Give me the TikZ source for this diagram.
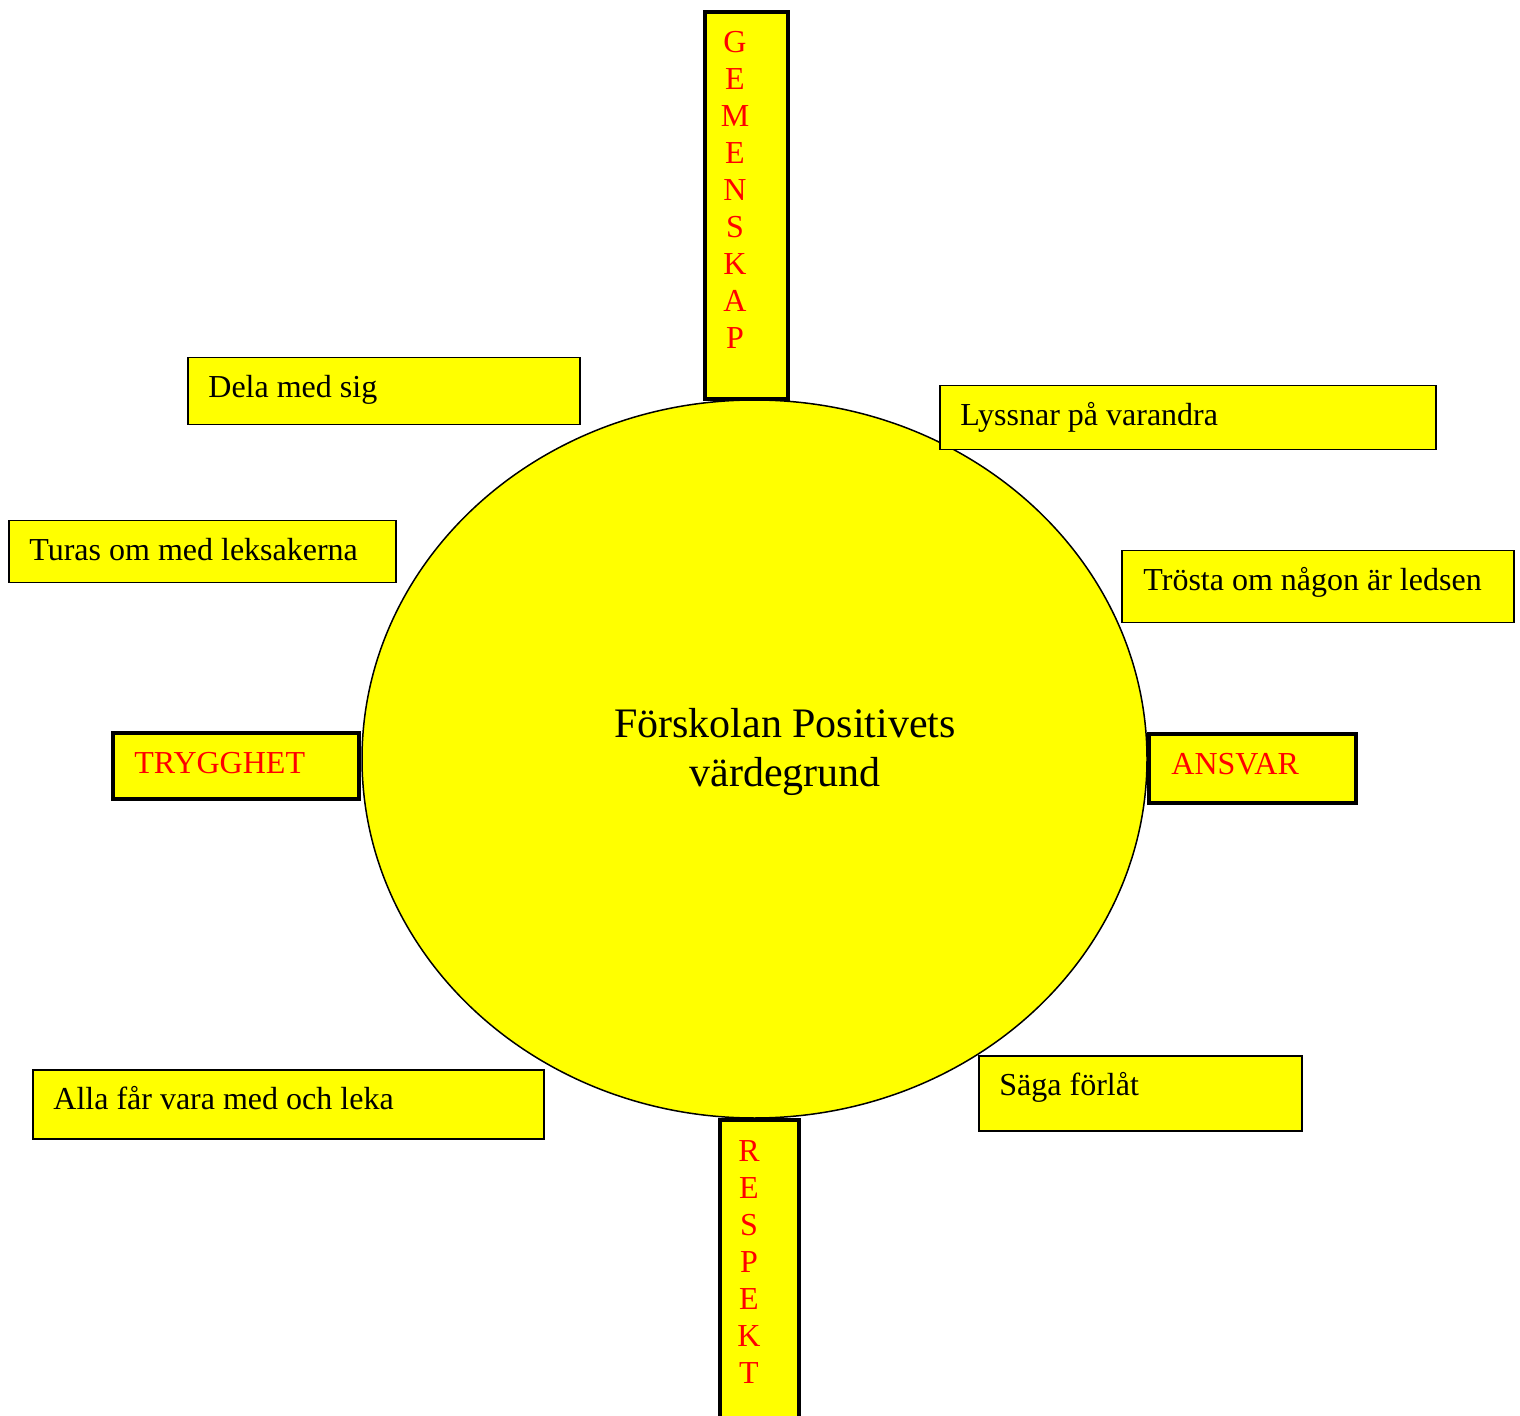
\documentclass[tikz,border=0pt]{standalone}
\usepackage{fontspec}
\setmainfont{Liberation Serif}
\usetikzlibrary{shapes.geometric}
\definecolor{ybox}{RGB}{255,255,0}
\definecolor{rtext}{RGB}{255,0,0}
\begin{document}
\begin{tikzpicture}[x=0.5pt,y=-0.5pt,
  thinbox/.style={draw=black, line width=0.75pt, fill=ybox, inner sep=0pt, anchor=north west},
  thickbox/.style={thinbox, line width=2pt},
  lbl/.style={anchor=base west, inner sep=0pt, font=\fontsize{16}{18.5}\selectfont},
  redlbl/.style={lbl, text=rtext},
  vlbl/.style={anchor=north, inner sep=0pt, align=center, text=rtext, font=\fontsize{16}{18.5}\selectfont},
  ring/.style={ellipse, draw=black, line width=0.75pt, fill=ybox, inner sep=0pt},
  title/.style={anchor=north, inner sep=0pt, align=center, font=\fontsize{21}{24.5}\selectfont}]
\clip (0,0) rectangle (1520,1416);
% centre
\node[ring, minimum width=392.5pt, minimum height=359pt] (core) at (754.5,759) {};
\node[title] (coretext) at (785,708) {Förskolan Positivets\\värdegrund};
% vertical boxes
\node[thickbox, minimum width=41.5pt, minimum height=193.5pt] (gem) at (703,10) {};
\node[vlbl] (gemt) at (735,31) {G\\E\\M\\E\\N\\S\\K\\A\\P};
\node[thickbox, minimum width=39.5pt, minimum height=160pt] (res) at (718,1118) {};
\node[vlbl] (rest) at (749,1140) {R\\E\\S\\P\\E\\K\\T};
% side boxes
\node[thickbox, minimum width=123pt, minimum height=33pt] (try) at (111,731) {};
\node[redlbl] (tryt) at (134,773) {TRYGGHET};
\node[thickbox, minimum width=103.5pt, minimum height=34.5pt] (ans) at (1147,732) {};
\node[redlbl] (anst) at (1171,774) {ANSVAR};
% text boxes
\node[thinbox, minimum width=196pt, minimum height=33.5pt] (dela) at (187,357) {};
\node[lbl] (delat) at (208,398) {Dela med sig};
\node[thinbox, minimum width=248pt, minimum height=32pt] (lys) at (939,385) {};
\node[lbl] (lyst) at (960,426) {Lyssnar på varandra};
\node[thinbox, minimum width=193.5pt, minimum height=31pt] (tur) at (8,520) {};
\node[lbl] (turt) at (29,561) {Turas om med leksakerna};
\node[thinbox, minimum width=196pt, minimum height=36pt] (tro) at (1121,550) {};
\node[lbl] (trot) at (1143,591) {Trösta om någon är ledsen};
\node[thinbox, minimum width=255.5pt, minimum height=34.5pt] (alla) at (32,1069) {};
\node[lbl] (allat) at (53,1109) {Alla får vara med och leka};
\node[thinbox, minimum width=161.5pt, minimum height=37.5pt] (saga) at (978,1055) {};
\node[lbl] (sagat) at (999,1095) {Säga förlåt};
\end{tikzpicture}
\end{document}
